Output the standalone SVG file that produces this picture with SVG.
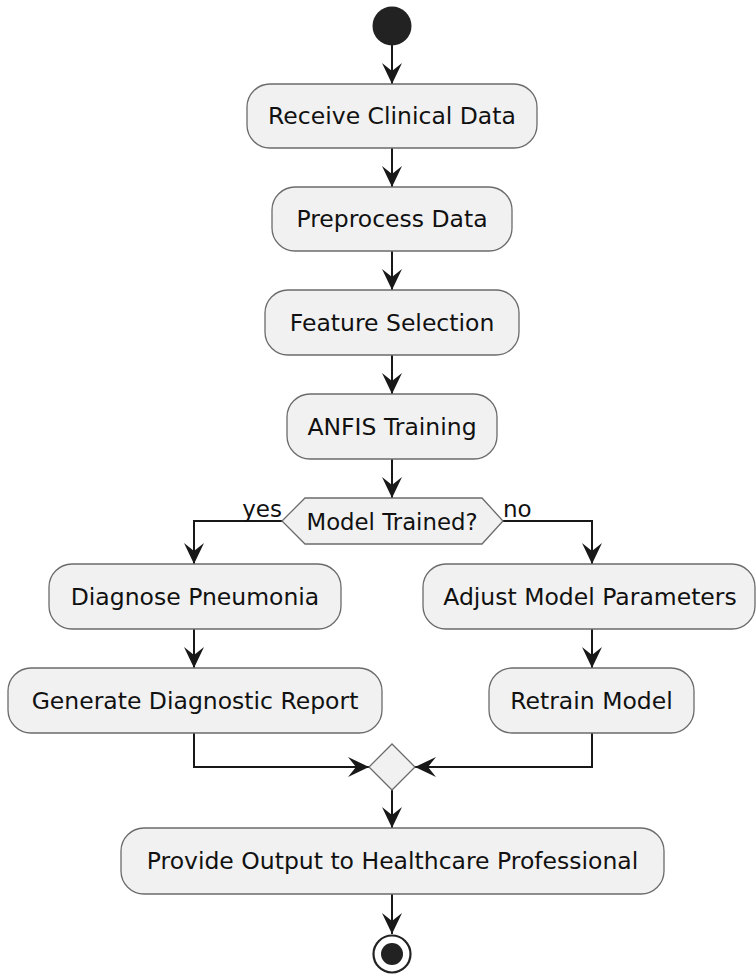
<svg xmlns="http://www.w3.org/2000/svg" width="756" height="974" viewBox="0 0 756 974">
<defs>
<style>
.box{fill:#F1F1F1;stroke:#6b6b6b;stroke-width:1.3}
.t{font-family:"DejaVu Sans",sans-serif;font-size:23.5px;fill:#111;text-anchor:middle}
.lbl{font-family:"DejaVu Sans",sans-serif;font-size:23px;fill:#111}
.dt{font-family:"DejaVu Sans",sans-serif;font-size:22.8px;fill:#111;text-anchor:middle}
.ln{fill:none;stroke:#181818;stroke-width:2}
</style>
<marker id="ah" viewBox="-22 -11 23 22" refX="0" refY="0" markerWidth="23" markerHeight="22" markerUnits="userSpaceOnUse" orient="auto">
<path d="M0,0 L-21,-10 L-13,0 L-21,10 Z" fill="#181818"/>
</marker>
</defs>
<rect width="756" height="974" fill="#fff"/>
<g id="connectors">
<line class="ln" x1="392" y1="45" x2="392" y2="84" marker-end="url(#ah)"/>
<line class="ln" x1="392" y1="148" x2="392" y2="187" marker-end="url(#ah)"/>
<line class="ln" x1="392" y1="251" x2="392" y2="290" marker-end="url(#ah)"/>
<line class="ln" x1="392" y1="355" x2="392" y2="394" marker-end="url(#ah)"/>
<line class="ln" x1="392" y1="459" x2="392" y2="498" marker-end="url(#ah)"/>
<polyline class="ln" points="282,521 194,521 194,564" marker-end="url(#ah)"/>
<polyline class="ln" points="503,521 592,521 592,564" marker-end="url(#ah)"/>
<line class="ln" x1="194" y1="629" x2="194" y2="668" marker-end="url(#ah)"/>
<line class="ln" x1="592" y1="629" x2="592" y2="668" marker-end="url(#ah)"/>
<polyline class="ln" points="194,733 194,767 369,767" marker-end="url(#ah)"/>
<polyline class="ln" points="592,733 592,767 415,767" marker-end="url(#ah)"/>
<line class="ln" x1="392" y1="790" x2="392" y2="828" marker-end="url(#ah)"/>
<line class="ln" x1="392" y1="894" x2="392" y2="934" marker-end="url(#ah)"/>
<text class="lbl" x="282" y="517" text-anchor="end">yes</text>
<text class="lbl" x="503" y="517">no</text>
</g>
<g id="start"><circle cx="392" cy="26" r="19.5" fill="#222"/></g>
<g id="receive"><rect class="box" x="247" y="84" width="290" height="64" rx="23"/><text class="t" x="392" y="124">Receive Clinical Data</text></g>
<g id="preprocess"><rect class="box" x="272" y="187" width="240" height="64" rx="23"/><text class="t" x="392" y="227">Preprocess Data</text></g>
<g id="feature"><rect class="box" x="265" y="290" width="254" height="65" rx="23"/><text class="t" x="392" y="330.5">Feature Selection</text></g>
<g id="anfis"><rect class="box" x="287" y="394" width="210" height="65" rx="23"/><text class="t" x="392" y="434.5">ANFIS Training</text></g>
<g id="decision"><polygon class="box" points="282,521 305,498 482,498 503,521 482,544 305,544"/><text class="dt" x="392" y="529.5">Model Trained?</text></g>
<g id="diagnose"><rect class="box" x="49" y="564" width="292" height="65" rx="23"/><text class="t" x="195" y="604.5">Diagnose Pneumonia</text></g>
<g id="adjust"><rect class="box" x="423" y="564" width="332" height="65" rx="23"/><text class="t" x="590" y="604.5">Adjust Model Parameters</text></g>
<g id="generate"><rect class="box" x="8" y="668" width="374" height="65" rx="23"/><text class="t" x="195" y="708.5">Generate Diagnostic Report</text></g>
<g id="retrain"><rect class="box" x="489" y="668" width="205" height="65" rx="23"/><text class="t" x="591.5" y="708.5">Retrain Model</text></g>
<g id="merge"><polygon class="box" points="369,767 392,744 415,767 392,790"/></g>
<g id="provide"><rect class="box" x="121" y="828" width="543" height="66" rx="23"/><text class="t" x="392.5" y="869">Provide Output to Healthcare Professional</text></g>
<g id="end"><circle cx="392" cy="954" r="18.5" fill="#fff" stroke="#222" stroke-width="2.2"/><circle cx="392" cy="954" r="11" fill="#222"/></g>
</svg>
